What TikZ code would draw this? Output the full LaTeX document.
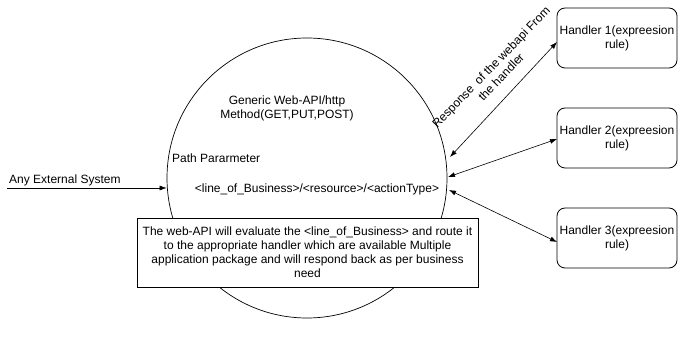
\documentclass[tikz,border=0pt]{standalone}
\usepackage{fontspec}
\setmainfont{Liberation Sans}
\usetikzlibrary{arrows.meta}
\begin{document}
\begin{tikzpicture}[x=1pt,y=-1pt,
  every node/.style={font=\fontsize{12}{14}\selectfont, inner sep=0pt},
  handler/.style={draw, rounded corners=8pt, minimum width=120pt, minimum height=60pt, align=center, line width=0.8pt},
  conn/.style={line width=0.6pt, {Latex[length=7pt,width=5pt]}-{Latex[length=7pt,width=5pt]}},
  single/.style={line width=0.6pt, -{Latex[length=7pt,width=5pt]}}]
\useasboundingbox (0,0) rectangle (690,352);
\node[draw, circle, minimum size=280pt, line width=0.7pt] (api) at (307,178) {};
\node[align=center] (gen) at (287,108) {Generic Web-API/http\\Method(GET,PUT,POST)};
\node[anchor=west] (path) at (172,158) {Path Pararmeter};
\node (lob) at (317,189) {<line\_of\_Business>/<resource>/<actionType>};
\node[draw, fill=white, line width=0.8pt, minimum width=341pt, minimum height=69pt, align=center] (box) at (307.5,252.5) {The web-API will evaluate the <line\_of\_Business> and route it\\to the appropriate handler which are available Multiple\\application package and will respond back as per business\\need};
\node[handler] (h1) at (617,38) {Handler 1(expreesion\\rule)};
\node[handler] (h2) at (617,138) {Handler 2(expreesion\\rule)};
\node[handler] (h3) at (617,238) {Handler 3(expreesion\\rule)};
\coordinate (ext) at (7,188);
\coordinate (e1) at (450,157);
\coordinate (e2) at (448,177);
\coordinate (e3) at (449,190);
\coordinate (x1) at (557,42);
\coordinate (x2) at (557,139);
\coordinate (x3) at (557,242);
\draw[single] (ext) -- (api.west |- ext);
\node[anchor=west] (extlbl) at (9,180) {Any External System};
\draw[conn] (e1) -- (x1);
\draw[conn] (e2) -- (x2);
\draw[conn] (e3) -- (x3);
\node[align=center, rotate=46] (resp) at (496,72) {Response \ of the webapi From\\the handler};
\end{tikzpicture}
\end{document}
